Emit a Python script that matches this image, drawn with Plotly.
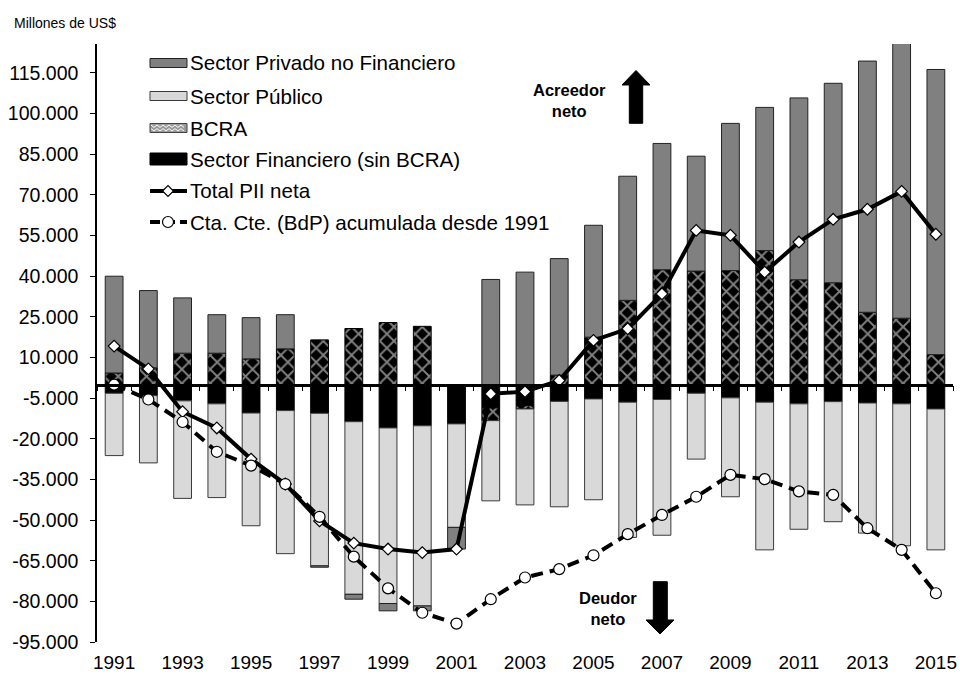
import plotly.graph_objects as go

# ---------------- data (millones de US$) ----------------
years = list(range(1991, 2016))
privado = [35700, 28500, 20400, 14200, 15200, 12600, -500, -1800, -2700, -1800, -8000,
           38800, 41500, 43000, 41300, 45800, 46600, 42400, 54300, 52800, 67100, 73600,
           92700, 106300, 105200]
publico = [-23000, -24800, -36000, -34600, -41600, -52800, -56300, -63700, -64800, -66500,
           -38200, -29600, -35400, -38900, -37200, -49900, -50100, -24300, -36500, -54500,
           -46300, -44300, -48000, -52400, -52000]
bcra = [4300, 6200, 11600, 11600, 9500, 13200, 16500, 20700, 22900, 21500, 0, -4700,
        -1200, 3500, 17500, 31100, 42400, 41900, 42100, 49500, 38700, 37600, 26700,
        24500, 11100]
financiero = [-3200, -4100, -6000, -7100, -10500, -9600, -10600, -13700, -16000, -15200,
              -14500, -8600, -7800, -6200, -5300, -6500, -5500, -3200, -4900, -6500,
              -7100, -6300, -6800, -7100, -9000]
total_pii = [14200, 5800, -10000, -16000, -27500, -36700, -50300, -58500, -60700, -62000,
             -60700, -3400, -2600, 1500, 16300, 20600, 33500, 56900, 55100, 41500, 52600,
             61000, 64700, 71300, 55500]
cta_cte = [0, -5500, -13800, -24800, -29900, -36700, -48800, -63500, -75200, -84200,
           -88200, -79200, -71200, -68100, -63000, -55200, -48100, -41400, -33300, -34900,
           -39400, -40700, -53000, -61000, -77000]

ytick_vals = [-95000, -80000, -65000, -50000, -35000, -20000, -5000, 10000, 25000, 40000,
              55000, 70000, 85000, 100000, 115000]
ytick_text = ["-95.000", "-80.000", "-65.000", "-50.000", "-35.000", "-20.000", "-5.000",
              "10.000", "25.000", "40.000", "55.000", "70.000", "85.000", "100.000", "115.000"]
xtick_years = [1991, 1993, 1995, 1997, 1999, 2001, 2003, 2005, 2007, 2009, 2011, 2013, 2015]
xtick_text = [str(y) for y in xtick_years]

legend_labels = ["Sector Privado no Financiero", "Sector Público", "BCRA",
                 "Sector Financiero (sin BCRA)", "Total PII neta",
                 "Cta. Cte. (BdP) acumulada desde 1991"]

# ---------------- layout geometry (pixels) ----------------
W, H = 960, 675
L, R, T, B = 97, 953, 44, 642      # plot area
YMIN, YMAX = -95000, 125700
XMIN, XMAX = years[0] - 0.5, years[-1] + 0.5


def fx(p):
    return (p - L) / (R - L)


def fy(p):
    return (B - p) / (B - T)


def path(points):
    return "M " + " L ".join(f"{fx(x):.5f},{fy(y):.5f}" for x, y in points) + " Z"


FONT = "Liberation Sans, Arial, sans-serif"
EDGE = "#3a3a3a"

fig = go.Figure()

fig.add_trace(go.Bar(x=years, y=financiero, name=legend_labels[3], width=0.52,
                     marker=dict(color="black", line=dict(color="black", width=1))))
fig.add_trace(go.Bar(x=years, y=bcra, name=legend_labels[2], width=0.52,
                     marker=dict(color="black", line=dict(color="black", width=1),
                                 pattern=dict(shape="x", fgcolor="white", bgcolor="black",
                                              size=10, solidity=0.35))))
fig.add_trace(go.Bar(x=years, y=publico, name=legend_labels[1], width=0.52,
                     marker=dict(color="#d9d9d9", line=dict(color=EDGE, width=1))))
fig.add_trace(go.Bar(x=years, y=privado, name=legend_labels[0], width=0.52,
                     marker=dict(color="#808080", line=dict(color="#222222", width=1))))
fig.add_trace(go.Scatter(x=years, y=total_pii, name=legend_labels[4], mode="lines+markers",
                         line=dict(color="black", width=4),
                         marker=dict(symbol="diamond", size=9, color="white",
                                     line=dict(color="black", width=1.2))))
fig.add_trace(go.Scatter(x=years, y=cta_cte, name=legend_labels[5], mode="lines+markers",
                         line=dict(color="black", width=4, dash="12px,7px"),
                         marker=dict(symbol="circle", size=11, color="white",
                                     line=dict(color="black", width=1.2))))
# carrier for the zero-line axis (invisible)
fig.add_trace(go.Scatter(x=[years[0]], y=[0], xaxis="x2", mode="markers",
                         marker=dict(opacity=0), hoverinfo="skip", showlegend=False))

for tr in fig.data:
    tr.showlegend = False

zero_pos = (0 - YMIN) / (YMAX - YMIN)

shapes = []
annotations = []

# custom legend
rows_y = [63, 96, 128, 159, 191, 222]
px0, px1 = 150, 187
shapes.append(dict(type="rect", xref="paper", yref="paper", x0=fx(px0), x1=fx(px1),
                   y0=fy(rows_y[0] + 4.5), y1=fy(rows_y[0] - 4.5),
                   fillcolor="#808080", line=dict(color="#222222", width=1)))
shapes.append(dict(type="rect", xref="paper", yref="paper", x0=fx(px0), x1=fx(px1),
                   y0=fy(rows_y[1] + 4.5), y1=fy(rows_y[1] - 4.5),
                   fillcolor="#d9d9d9", line=dict(color=EDGE, width=1)))
shapes.append(dict(type="rect", xref="paper", yref="paper", x0=fx(px0), x1=fx(px1),
                   y0=fy(rows_y[2] + 4.5), y1=fy(rows_y[2] - 4.5),
                   fillcolor="#9a9a9a", line=dict(color="#444444", width=1)))
for off in (-1.8, 1.8):
    pts = []
    xx = px0 + 1
    k = 0
    while xx <= px1 - 1:
        pts.append((xx, rows_y[2] + off + (1.2 if k % 2 else -1.2)))
        xx += 3
        k += 1
    shapes.append(dict(type="path", xref="paper", yref="paper",
                       path="M " + " L ".join(f"{fx(a):.5f},{fy(b):.5f}" for a, b in pts),
                       line=dict(color="white", width=1)))
shapes.append(dict(type="rect", xref="paper", yref="paper", x0=fx(px0), x1=fx(px1),
                   y0=fy(rows_y[3] + 6), y1=fy(rows_y[3] - 6),
                   fillcolor="black", line=dict(color="black", width=1)))
shapes.append(dict(type="line", xref="paper", yref="paper", x0=fx(px0), x1=fx(px1),
                   y0=fy(rows_y[4]), y1=fy(rows_y[4]), line=dict(color="black", width=4)))
cx = 168
shapes.append(dict(type="path", xref="paper", yref="paper",
                   path=path([(cx - 5.5, rows_y[4]), (cx, rows_y[4] - 5.5),
                              (cx + 5.5, rows_y[4]), (cx, rows_y[4] + 5.5)]),
                   fillcolor="white", line=dict(color="black", width=1.2)))
shapes.append(dict(type="line", xref="paper", yref="paper", x0=fx(px0), x1=fx(px1),
                   y0=fy(rows_y[5]), y1=fy(rows_y[5]),
                   line=dict(color="black", width=4, dash="10px,5px")))
shapes.append(dict(type="circle", xref="paper", yref="paper",
                   x0=fx(cx - 5.5), x1=fx(cx + 5.5), y0=fy(rows_y[5] + 5.5),
                   y1=fy(rows_y[5] - 5.5), fillcolor="white",
                   line=dict(color="black", width=1.2)))
for lab, yy in zip(legend_labels, rows_y):
    annotations.append(dict(text=lab, xref="paper", yref="paper", x=fx(187.5), y=fy(yy),
                            xanchor="left", yanchor="middle", showarrow=False,
                            font=dict(size=20.6, color="black", family=FONT)))

# arrows
shapes.append(dict(type="path", xref="paper", yref="paper",
                   path=path([(629.3, 123.3), (629.3, 85), (622, 85), (636, 70.5),
                              (650, 85), (642.7, 85), (642.7, 123.3)]),
                   fillcolor="black", line=dict(color="black", width=1)))
shapes.append(dict(type="path", xref="paper", yref="paper",
                   path=path([(653.3, 581.7), (667.3, 581.7), (667.3, 620), (674, 620),
                              (660, 634), (646, 620), (653.3, 620)]),
                   fillcolor="black", line=dict(color="black", width=1)))

annotations.append(dict(text="<b>Acreedor</b><br><b>neto</b>", xref="paper", yref="paper",
                        x=fx(569), y=fy(100), xanchor="center", yanchor="middle",
                        showarrow=False, font=dict(size=16.5, color="black", family=FONT)))
annotations.append(dict(text="<b>Deudor</b><br><b>neto</b>", xref="paper", yref="paper",
                        x=fx(608), y=fy(608), xanchor="center", yanchor="middle",
                        showarrow=False, font=dict(size=16.5, color="black", family=FONT)))
annotations.append(dict(text="Millones de US$", xref="paper", yref="paper",
                        x=fx(12), y=fy(23), xanchor="left", yanchor="middle",
                        showarrow=False, font=dict(size=14, color="black", family=FONT)))

fig.update_layout(
    width=W, height=H,
    margin=dict(l=L, r=W - R, t=T, b=H - B, autoexpand=False),
    paper_bgcolor="white", plot_bgcolor="white",
    barmode="relative", bargap=0.48,
    font=dict(family=FONT, color="black"),
    showlegend=False,
    xaxis=dict(range=[XMIN, XMAX], tickmode="array", tickvals=xtick_years,
               ticktext=xtick_text, ticks="", showline=False, showgrid=False,
               zeroline=False, tickfont=dict(size=19), ticklabelstandoff=7,
               automargin=False),
    xaxis2=dict(overlaying="x", anchor="free", position=zero_pos, range=[XMIN, XMAX],
                tickmode="array", tickvals=[XMIN + i for i in range(len(years) + 1)],
                ticks="outside", ticklen=5, tickwidth=1, tickcolor="black",
                showticklabels=False, showline=True, linecolor="black", linewidth=2.5,
                showgrid=False, zeroline=False, automargin=False),
    yaxis=dict(range=[YMIN, YMAX], tickmode="array", tickvals=ytick_vals,
               ticktext=ytick_text, ticks="outside", ticklen=5, tickwidth=1,
               tickcolor="black", showline=True, linecolor="black", linewidth=1.5,
               showgrid=False, zeroline=False, tickfont=dict(size=19.5),
               ticklabelstandoff=8, automargin=False),
    shapes=shapes,
    annotations=annotations,
)

fig.write_html("out.html",
               config={"displayModeBar": False},
               post_script="document.body.style.margin='0';"
                           "document.body.style.overflow='hidden';")
